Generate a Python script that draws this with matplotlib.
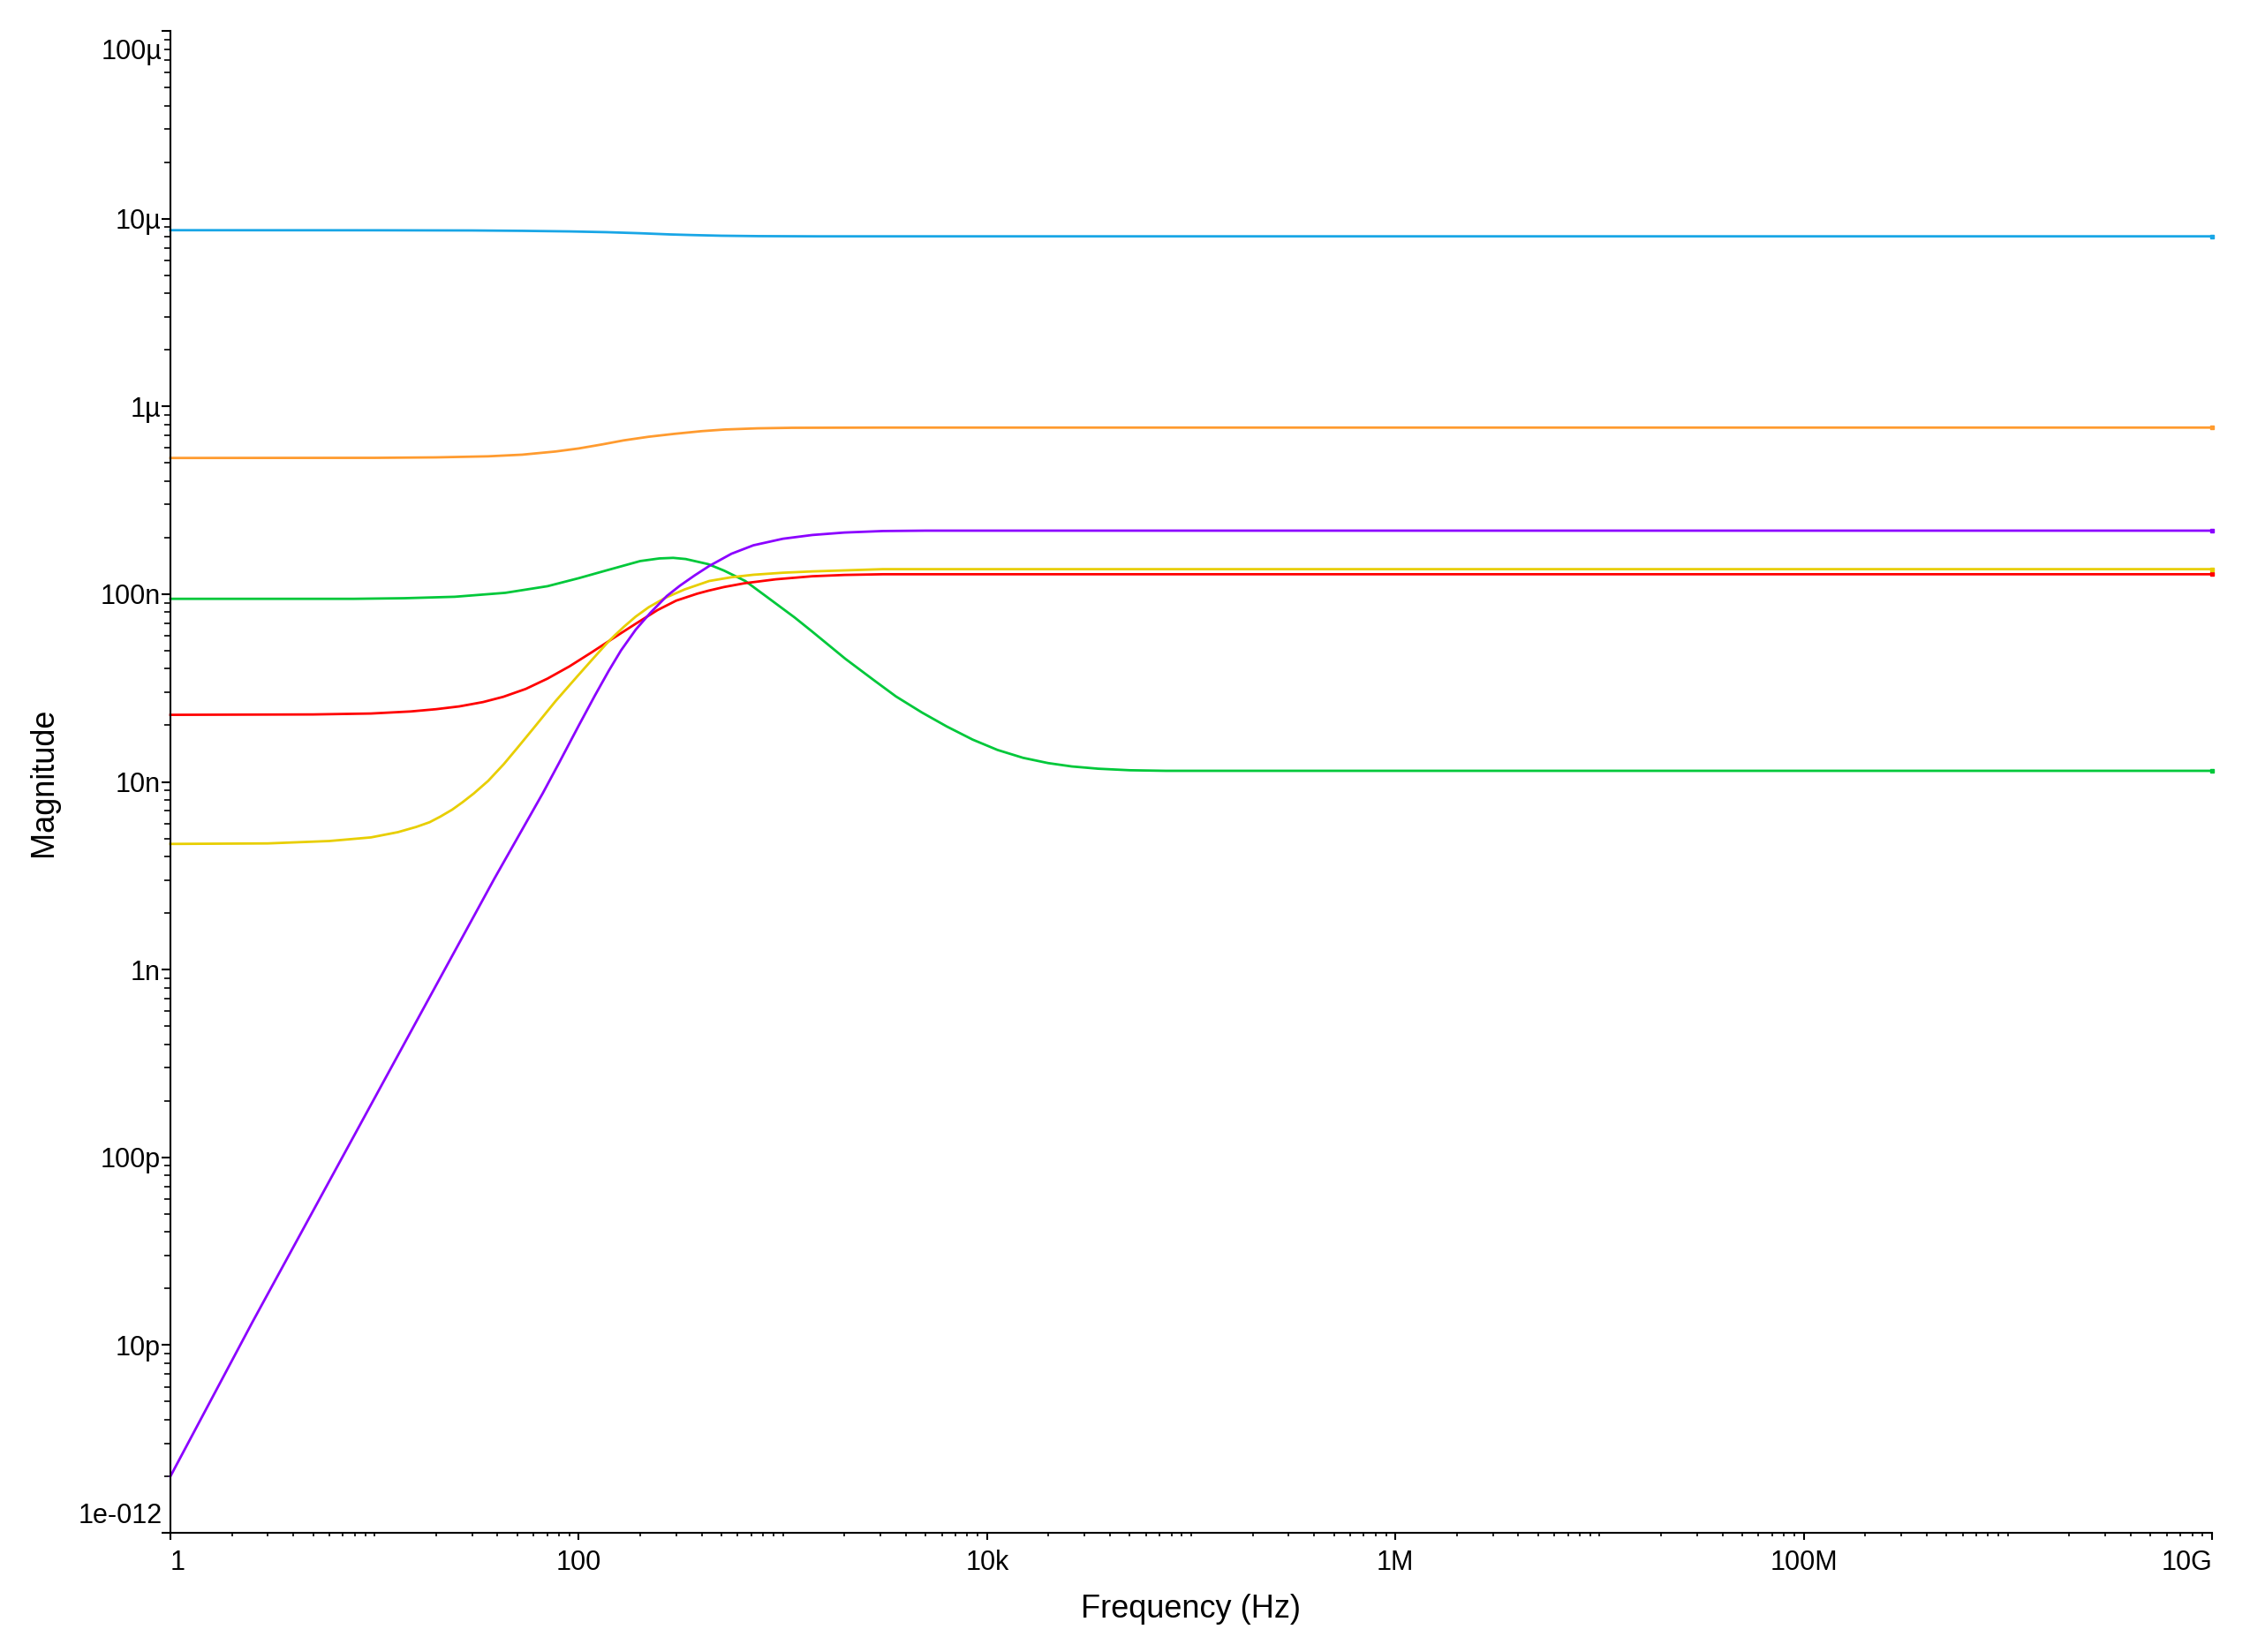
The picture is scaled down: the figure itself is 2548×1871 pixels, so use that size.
import matplotlib
matplotlib.use("Agg")
import matplotlib.pyplot as plt
from matplotlib.ticker import LogLocator, NullFormatter
from matplotlib.transforms import blended_transform_factory

plt.rcParams['font.family'] = ['Liberation Sans', 'DejaVu Sans']

# ---------------- data ----------------
blue_f = [1, 10, 30, 53, 90, 137, 200, 280, 355, 500, 760, 1500, 3090, 1e10]
blue_v = [8.679e-6, 8.670e-6, 8.65e-6, 8.61e-6, 8.55e-6, 8.47e-6, 8.36e-6, 8.24e-6,
          8.18e-6, 8.11e-6, 8.07e-6, 8.05e-6, 8.05e-6, 8.05e-6]

orange_f = [1, 10, 20, 36, 52.8, 77, 100, 130, 166, 220, 294, 400, 520, 750, 1114, 3090, 1e10]
orange_v = [5.31e-7, 5.32e-7, 5.35e-7, 5.42e-7, 5.53e-7, 5.75e-7, 5.97e-7, 6.27e-7, 6.59e-7,
            6.89e-7, 7.14e-7, 7.38e-7, 7.53e-7, 7.64e-7, 7.69e-7, 7.71e-7, 7.71e-7]

purple_f = [1, 2.52, 16.8, 38.6, 66.7, 80, 100, 120, 140, 161, 190, 224, 270, 313, 370, 436,
            560, 717, 1000, 1393, 2000, 3090, 5000, 1e10]
purple_v = [2.00e-12, 1.324e-11, 5.82e-10, 3.05e-9, 8.71e-9, 1.259e-8, 1.995e-8, 2.884e-8,
            3.89e-8, 5.01e-8, 6.46e-8, 7.94e-8, 9.77e-8, 1.109e-7, 1.259e-7, 1.413e-7,
            1.641e-7, 1.820e-7, 1.972e-7, 2.065e-7, 2.128e-7, 2.168e-7, 2.178e-7, 2.178e-7]

yellow_f = [1, 3, 6, 9.6, 13, 16, 18.6, 21, 24, 27, 30.6, 36, 43, 50.4, 60, 77, 98, 115,
            136.5, 150, 166, 190, 220, 265, 330, 436, 560, 717, 1000, 1393, 3090, 1e10]
yellow_v = [4.67e-9, 4.70e-9, 4.84e-9, 5.06e-9, 5.395e-9, 5.754e-9, 6.095e-9, 6.531e-9,
            7.112e-9, 7.798e-9, 8.670e-9, 1.012e-8, 1.245e-8, 1.531e-8, 1.928e-8, 2.692e-8,
            3.631e-8, 4.416e-8, 5.433e-8, 6.026e-8, 6.683e-8, 7.586e-8, 8.511e-8, 9.550e-8,
            1.059e-7, 1.175e-7, 1.230e-7, 1.268e-7, 1.300e-7, 1.321e-7, 1.358e-7, 1.358e-7]

red_f = [1, 5, 9.6, 15, 20, 26, 34, 42.7, 55, 70.3, 90, 115.7, 137, 160, 190, 243, 300, 380,
         430, 515, 650, 922, 1393, 2000, 3090, 1e10]
red_v = [2.275e-8, 2.286e-8, 2.312e-8, 2.371e-8, 2.438e-8, 2.523e-8, 2.661e-8, 2.838e-8,
         3.126e-8, 3.548e-8, 4.121e-8, 4.898e-8, 5.521e-8, 6.166e-8, 6.95e-8, 8.22e-8,
         9.23e-8, 1.005e-7, 1.042e-7, 1.091e-7, 1.143e-7, 1.199e-7, 1.245e-7, 1.265e-7,
         1.276e-7, 1.276e-7]

green_f = [1, 7.9, 14, 24.7, 43.7, 70.3, 100, 136.5, 200, 248, 290, 334, 430, 515, 654, 847,
           1143, 1393, 2024, 2800, 3580, 4800, 6350, 8500, 11250, 15000, 19900, 26000,
           35000, 50000, 75000, 1e10]
green_v = [9.44e-8, 9.44e-8, 9.51e-8, 9.68e-8, 1.016e-7, 1.102e-7, 1.216e-7, 1.337e-7,
           1.500e-7, 1.549e-7, 1.560e-7, 1.538e-7, 1.445e-7, 1.334e-7, 1.175e-7, 9.55e-8,
           7.50e-8, 6.31e-8, 4.52e-8, 3.47e-8, 2.85e-8, 2.34e-8, 1.972e-8, 1.679e-8,
           1.479e-8, 1.343e-8, 1.259e-8, 1.208e-8, 1.175e-8, 1.153e-8, 1.145e-8, 1.145e-8]

x_ticks = [1, 1e2, 1e4, 1e6, 1e8, 1e10]
x_labels = ["1", "100", "10k", "1M", "100M", "10G"]
y_ticks = [1e-12, 1e-11, 1e-10, 1e-9, 1e-8, 1e-7, 1e-6, 1e-5, 1e-4]
y_labels = ["1e-012", "10p", "100p", "1n", "10n", "100n", "1µ", "10µ", "100µ"]

series = [
    (blue_f, blue_v, "#19A6E6"),
    (orange_f, orange_v, "#FF9B2F"),
    (green_f, green_v, "#00C83A"),
    (red_f, red_v, "#FF0000"),
    (yellow_f, yellow_v, "#E8CE00"),
    (purple_f, purple_v, "#8B00FF"),
]

# ---------------- figure ----------------
W, H = 2548, 1871
fig = plt.figure(figsize=(W / 100, H / 100), dpi=100)
L, R, T, B = 193, 2505, 35, 1736
ax = fig.add_axes([L / W, 1 - B / H, (R - L) / W, (B - T) / H])

for f, v, c in series:
    ax.plot(f, v, color=c, lw=2.0, marker='s', markersize=3.5, markevery=[-1],
            solid_joinstyle='round', clip_on=False)

ax.set_xscale('log')
ax.set_yscale('log')
ax.set_xlim(1, 1e10)
ax.set_ylim(1e-12, 1e-4)

for s in ['top', 'right']:
    ax.spines[s].set_visible(False)
for s in ['left', 'bottom']:
    ax.spines[s].set_linewidth(1.5)

ax.set_xticks(x_ticks)
xl = ax.set_xticklabels(x_labels, fontsize=22)
xl[0].set_horizontalalignment('left')
xl[-1].set_horizontalalignment('right')
ax.xaxis.set_minor_locator(LogLocator(base=10, subs=[1, 2, 3, 4, 5, 6, 7, 8, 9], numticks=100))
ax.xaxis.set_minor_formatter(NullFormatter())

ax.set_yticks(y_ticks)
ylabs = [l if l not in ("1e-012", "100µ") else "" for l in y_labels]
ax.set_yticklabels(ylabs, fontsize=22)
ax.yaxis.set_minor_locator(LogLocator(base=10, subs=[2, 3, 4, 5, 6, 7, 8, 9], numticks=100))
ax.yaxis.set_minor_formatter(NullFormatter())

ax.tick_params(axis='x', which='major', length=6, width=1.5, pad=8, direction='out')
ax.tick_params(axis='x', which='minor', length=3, width=1.2, direction='out')
ax.tick_params(axis='y', which='major', length=7, width=1.5, pad=1, direction='out')
ax.tick_params(axis='y', which='minor', length=5, width=1.2, direction='out')

trans = blended_transform_factory(ax.transAxes, ax.transData)
ax.annotate(y_labels[-1], xy=(0, y_ticks[-1]), xycoords=trans, xytext=(-6.5, -17),
            textcoords='offset points', ha='right', va='center', fontsize=22)
ax.annotate(y_labels[0], xy=(0, y_ticks[0]), xycoords=trans, xytext=(-6.5, 14),
            textcoords='offset points', ha='right', va='center', fontsize=22)

ax.set_xlabel("Frequency (Hz)", fontsize=26)
ax.set_ylabel("Magnitude", fontsize=26)
ax.xaxis.set_label_coords(0.5, (B - 1822) / (B - T))
ax.xaxis.label.set_va('center')
ax.yaxis.set_label_coords((49 - L) / (R - L), 0.5)
ax.yaxis.label.set_va('center')

fig.savefig("out.png", dpi=100)
